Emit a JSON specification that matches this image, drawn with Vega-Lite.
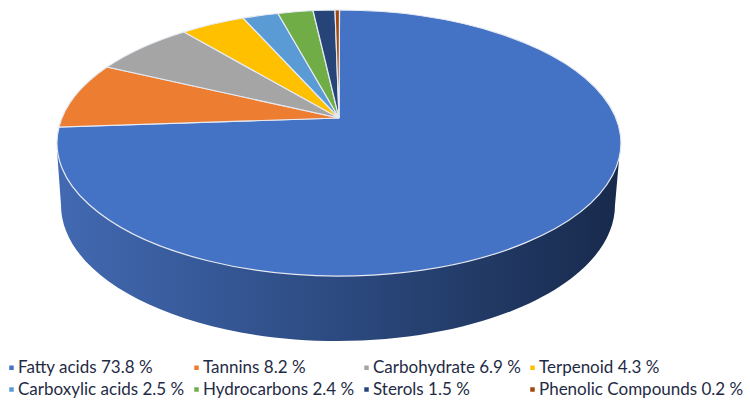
{
  "$schema": "https://vega.github.io/schema/vega-lite/v6.json",
  "width": 750,
  "height": 404,
  "padding": 0,
  "autosize": {"type": "none"},
  "background": "white",
  "view": {"stroke": null},
  "config": {"view": {"stroke": null}},
  "data": {"values": [
    {"compound": "Fatty acids", "share": 73.8, "label": "Fatty acids 73.8 %"},
    {"compound": "Tannins", "share": 8.2, "label": "Tannins 8.2 %"},
    {"compound": "Carbohydrate", "share": 6.9, "label": "Carbohydrate 6.9 %"},
    {"compound": "Terpenoid", "share": 4.3, "label": "Terpenoid 4.3 %"},
    {"compound": "Carboxylic acids", "share": 2.5, "label": "Carboxylic acids 2.5 %"},
    {"compound": "Hydrocarbons", "share": 2.4, "label": "Hydrocarbons 2.4 %"},
    {"compound": "Sterols", "share": 1.5, "label": "Sterols 1.5 %"},
    {"compound": "Phenolic Compounds", "share": 0.2, "label": "Phenolic Compounds 0.2 %"}
  ]},
  "layer": [
    {
      "transform": [{"filter": "datum.compound === 'Fatty acids'"}],
      "mark": {
        "type": "point",
        "filled": true,
        "opacity": 1,
        "size": 4,
        "shape": "M-318,-52 L-314,3 A277,136 0 0 0 240,3 L244,-42 Z",
        "fill": {
          "gradient": "linear",
          "x1": 0, "y1": 0, "x2": 1, "y2": 0,
          "stops": [
            {"offset": 0, "color": "#4269b2"},
            {"offset": 0.5, "color": "#2c4a80"},
            {"offset": 1, "color": "#182a4c"}
          ]
        }
      },
      "encoding": {}
    },
    {
      "mark": {
        "type": "point",
        "filled": true,
        "opacity": 1,
        "size": 4,
        "stroke": "#e6eaf2",
        "strokeWidth": 1.2
      },
      "encoding": {
        "color": {
          "field": "label",
          "type": "nominal",
          "sort": null,
          "scale": {
            "domain": ["Fatty acids 73.8 %", "Tannins 8.2 %", "Carbohydrate 6.9 %", "Terpenoid 4.3 %", "Carboxylic acids 2.5 %", "Hydrocarbons 2.4 %", "Sterols 1.5 %", "Phenolic Compounds 0.2 %"],
            "range": ["#4472c4", "#ed7d31", "#a5a5a5", "#ffc000", "#5b9bd5", "#70ad47", "#264478", "#9e480e"]
          },
          "legend": {
            "title": null,
            "orient": "none",
            "direction": "horizontal",
            "legendX": 3,
            "legendY": 359,
            "columns": 4,
            "gridAlign": "each",
            "columnPadding": 3,
            "rowPadding": 4,
            "symbolType": "square",
            "symbolSize": 20,
            "symbolStrokeWidth": 0,
            "labelFont": "Lato",
            "labelFontSize": 17,
            "labelColor": "#1f2b45",
            "labelOffset": -2,
            "labelLimit": 260
          }
        },
        "shape": {
          "field": "compound",
          "type": "nominal",
          "sort": null,
          "legend": null,
          "scale": {
            "domain": ["Fatty acids", "Tannins", "Carbohydrate", "Terpenoid", "Carboxylic acids", "Hydrocarbons", "Sterols", "Phenolic Compounds"],
            "range": [
              "M-36,-84 L-35.5,-192 A282,133 0 1 1 -316,-75 Z",
              "M-36,-84 L-316,-75 A282,133 0 0 1 -268,-135 Z",
              "M-36,-84 L-268,-135 A282,133 0 0 1 -191,-170 Z",
              "M-36,-84 L-191,-170 A282,133 0 0 1 -132,-184 Z",
              "M-36,-84 L-132,-184 A282,133 0 0 1 -97,-188.5 Z",
              "M-36,-84 L-97,-188.5 A282,133 0 0 1 -62,-191.5 Z",
              "M-36,-84 L-62,-191.5 A282,133 0 0 1 -40,-192 Z",
              "M-36,-84 L-40,-192 A282,133 0 0 1 -35.5,-192 Z"
            ]
          }
        }
      }
    }
  ]
}
